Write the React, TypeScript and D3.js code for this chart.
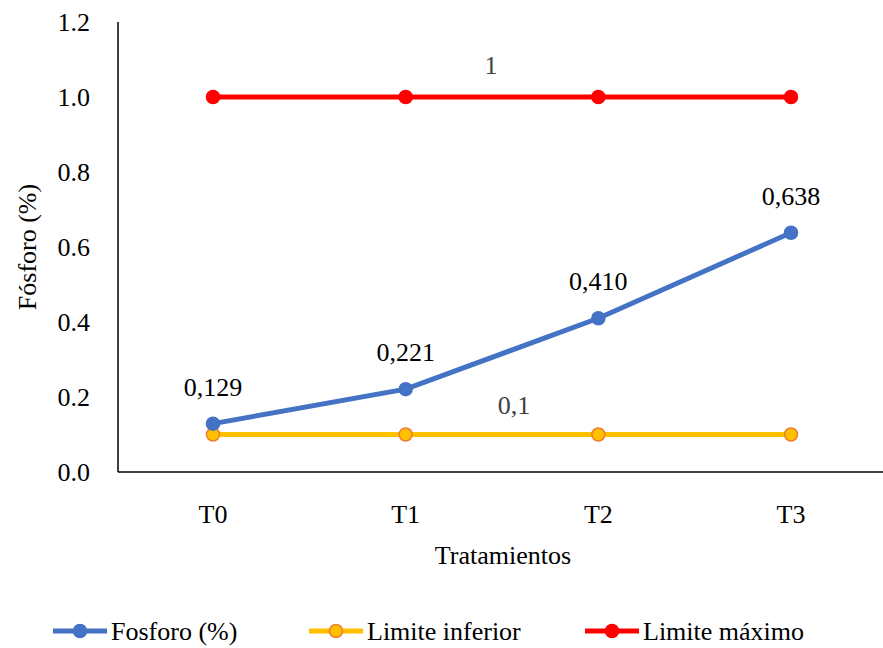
import * as d3 from 'd3'

const categories = ['T0', 'T1', 'T2', 'T3']
const fosforo = [0.129, 0.221, 0.41, 0.638]
const limiteInferior = [0.1, 0.1, 0.1, 0.1]
const limiteMaximo = [1, 1, 1, 1]
const yTicks = [0, 0.2, 0.4, 0.6, 0.8, 1.0, 1.2]
const fosforoLabels = ['0,129', '0,221', '0,410', '0,638']

const W = 883
const H = 648
const FONT = "'Times New Roman', Tinos, 'DejaVu Serif'"

export default function App() {
  const x = d3.scalePoint<string>().domain(categories).range([213, 791])
  const y = d3.scaleLinear().domain([0, 1.2]).range([472, 22])

  const line = d3
    .line<number>()
    .x((_, i) => x(categories[i]) as number)
    .y((d) => y(d))

  const series = [
    { name: 'Limite inferior', values: limiteInferior, color: '#FFC000', stroke: '#ED7D31' },
    { name: 'Limite máximo', values: limiteMaximo, color: '#FF0000', stroke: '#FF0000' },
    { name: 'Fosforo (%)', values: fosforo, color: '#4472C4', stroke: '#4472C4' },
  ]
  const legend = [
    { name: 'Fosforo (%)', color: '#4472C4', stroke: '#4472C4', x: 53 },
    { name: 'Limite inferior', color: '#FFC000', stroke: '#ED7D31', x: 309 },
    { name: 'Limite máximo', color: '#FF0000', stroke: '#FF0000', x: 585 },
  ]

  const txt = { fontFamily: FONT, fontSize: 26 }

  return (
    <svg width={W} height={H} style={{ position: 'fixed', left: 0, top: 0, background: '#fff' }}>
      {/* axes */}
      <line x1={118} x2={118} y1={22} y2={472} stroke="#000" strokeWidth={1.5} />
      <line x1={118} x2={W} y1={472} y2={472} stroke="#000" strokeWidth={1.5} />
      {yTicks.map((t) => (
        <text key={t} x={90} y={y(t)} dy="0.35em" style={txt} textAnchor="end" fill="#000">
          {t.toFixed(1)}
        </text>
      ))}
      {categories.map((c) => (
        <text key={c} x={x(c)} y={514} dy="0.35em" style={txt} textAnchor="middle" fill="#000">
          {c}
        </text>
      ))}
      <text x={503} y={555} dy="0.35em" style={txt} textAnchor="middle" fill="#000">
        Tratamientos
      </text>
      <text
        transform={`translate(27,${y(0.6)}) rotate(-90)`}
        dy="0.35em"
        style={txt}
        textAnchor="middle"
        fill="#000"
      >
        Fósforo (%)
      </text>

      {/* series */}
      {series.map((s) => (
        <g key={s.name}>
          <path d={line(s.values) ?? ''} fill="none" stroke={s.color} strokeWidth={5} />
          {s.values.map((v, i) => (
            <circle
              key={i}
              cx={x(categories[i])}
              cy={y(v)}
              r={6.5}
              fill={s.color}
              stroke={s.stroke}
              strokeWidth={1.5}
            />
          ))}
        </g>
      ))}

      {/* data labels */}
      {fosforo.map((v, i) => (
        <text key={i} x={x(categories[i])} y={y(v) - 37} dy="0.35em" style={txt} textAnchor="middle" fill="#000">
          {fosforoLabels[i]}
        </text>
      ))}
      <text x={491} y={65} dy="0.35em" style={txt} textAnchor="middle" fill="#404040">
        1
      </text>
      <text x={514} y={405} dy="0.35em" style={txt} textAnchor="middle" fill="#404040">
        0,1
      </text>

      {/* legend */}
      {legend.map((l) => (
        <g key={l.name} transform={`translate(${l.x},631)`}>
          <line x1={0} x2={54} y1={0} y2={0} stroke={l.color} strokeWidth={5} />
          <circle cx={27} cy={0} r={6.5} fill={l.color} stroke={l.stroke} strokeWidth={1.5} />
          <text x={58} y={0} dy="0.35em" style={txt} fill="#000">
            {l.name}
          </text>
        </g>
      ))}
    </svg>
  )
}
